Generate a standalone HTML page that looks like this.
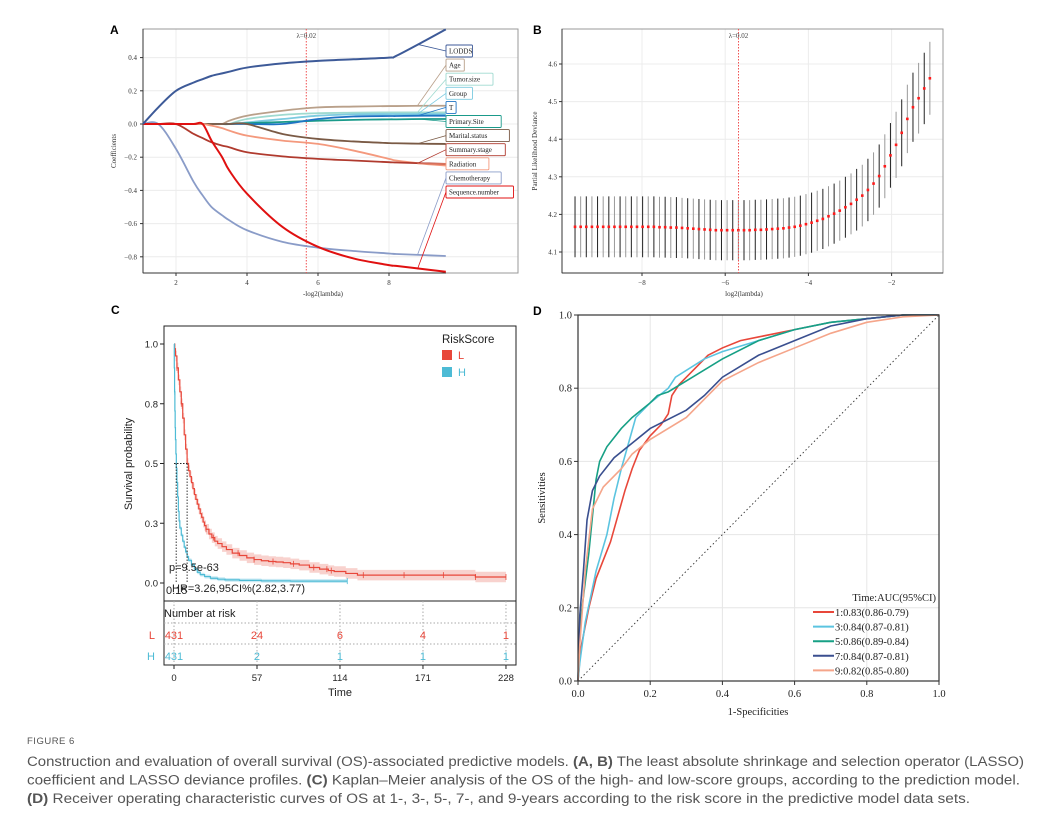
<!DOCTYPE html>
<html><head><meta charset="utf-8"><style>
html,body{margin:0;padding:0;background:#fff;}
svg{display:block;}
</style></head><body>
<svg id="fig" width="1051" height="828" viewBox="0 0 1051 828" xmlns="http://www.w3.org/2000/svg"></svg>
<script>
// ---------- DATA ----------
// Panel A: LASSO coefficient paths
const lambdaA = [1.07,1.5,2,2.5,2.75,3,3.3,3.5,4,5,6,7,8,8.2,9,9.6];
const coefLODDS   = [0,0.1,0.2,0.25,0.27,0.29,0.305,0.315,0.34,0.365,0.38,0.39,0.40,0.41,0.5,0.57];
const coefAge     = [0,0,0,0,0,0,0,0.02,0.05,0.08,0.1,0.105,0.108,0.108,0.11,0.11];
const coefTumor   = [0,0,0,0,0,0,0,0,0.03,0.055,0.065,0.068,0.07,0.07,0.07,0.07];
const coefGroup   = [0,0,0,0,0,0,0,0,0.01,0.03,0.05,0.058,0.06,0.06,0.06,0.06];
const coefT       = [0,0,0,0,0,0,0,0,0,0,0.03,0.045,0.048,0.048,0.05,0.05];
const coefPrimary = [0,0,0,0,0,0,0,0,0.005,0.012,0.02,0.025,0.028,0.028,0.03,0.03];
const coefMarital = [0,0,0,0,0,0,0,0,0,-0.06,-0.09,-0.105,-0.115,-0.116,-0.119,-0.12];
const coefSummary = [0,0,0,-0.06,-0.085,-0.11,-0.13,-0.14,-0.17,-0.195,-0.21,-0.22,-0.23,-0.232,-0.237,-0.24];
const coefRadiation=[0,0,0,0,0,-0.01,-0.025,-0.04,-0.07,-0.1,-0.12,-0.16,-0.21,-0.22,-0.24,-0.25];
const coefChemo   = [0,0,-0.15,-0.35,-0.43,-0.5,-0.55,-0.58,-0.64,-0.71,-0.745,-0.765,-0.78,-0.783,-0.79,-0.795];
const coefSeq     = [0,0,0,0,0,-0.1,-0.2,-0.28,-0.42,-0.62,-0.74,-0.81,-0.85,-0.855,-0.875,-0.89];
const varNames = ["LODDS","Age","Tumor.size","Group","T","Primary.Site","Marital.status","Summary.stage","Radiation","Chemotherapy","Sequence.number"];
const varColors = ["#3d5a98","#b9a08a","#9fdad0","#7ccbe0","#1f74c4","#1a9a8a","#7a5a45","#b03a2e","#f4997d","#8a9cc8","#e01010"];
const ticksAx = [2,4,6,8];
const ticksAy = [0.4,0.2,0.0,-0.2,-0.4,-0.6,-0.8];
// Panel B: CV deviance
const logLambdaStart = -9.61, logLambdaEnd = -1.08;
const devMean = [4.167,4.167,4.167,4.167,4.167,4.167,4.167,4.167,4.167,4.167,4.167,4.167,4.167,4.167,4.167,
 4.166,4.166,4.165,4.165,4.164,4.163,
 4.162,4.161,4.160,4.159,4.158,4.158,4.158,4.158,
 4.158,4.158,4.158,4.159,4.159,4.160,4.161,4.162,4.163,4.165,
 4.167,4.170,4.174,4.178,4.183,4.188,4.195,4.202,4.210,4.219,4.228,4.239,4.250,4.265,4.282,4.302,4.328,4.357,4.385,4.417,4.454,4.485,4.509,4.535,4.562];
const devSE = [0.081,0.081,0.081,0.081,0.081,0.081,0.081,0.081,0.081,0.081,0.081,0.081,0.081,0.081,0.081,
 0.081,0.081,0.081,0.081,0.080,0.080,
 0.080,0.080,0.080,0.080,0.080,0.080,0.080,0.080,
 0.080,0.080,0.080,0.080,0.080,0.080,0.080,0.080,0.080,0.080,
 0.080,0.080,0.080,0.080,0.080,0.080,0.080,0.080,0.080,0.081,0.081,0.082,0.082,0.083,0.083,0.084,0.085,0.086,0.088,0.089,0.091,0.092,0.094,0.095,0.097];
const ticksBx = [-8,-6,-4,-2];
const ticksBy = [4.1,4.2,4.3,4.4,4.5,4.6];
// Panel C: Kaplan-Meier
const kmTimeL = [0,0.5,1,2,3,4,5,6,7,8,9,10,11,12,13,14,15,16,17,18,19,20,21,22,24,26,28,30,33,36,40,45,50,55,60,65,70,75,80,86,93,100,106,110,118,126,150,180,207,228];
const kmSurvL = [1,0.98,0.95,0.9,0.85,0.8,0.75,0.69,0.62,0.56,0.5,0.47,0.445,0.42,0.395,0.37,0.35,0.33,0.31,0.29,0.275,0.255,0.24,0.225,0.205,0.19,0.175,0.165,0.152,0.14,0.125,0.115,0.105,0.098,0.093,0.09,0.088,0.085,0.08,0.075,0.065,0.058,0.052,0.048,0.04,0.033,0.033,0.033,0.025,0.025];
const kmTimeH = [0,0.2,0.4,0.6,0.8,1,1.3,1.6,2,2.5,3,3.5,4,5,6,7,8,9,10,12,14,16,18,21,25,30,35,45,60,80,119];
const kmSurvH = [1,0.9,0.8,0.72,0.65,0.6,0.54,0.48,0.42,0.36,0.3,0.26,0.23,0.2,0.175,0.15,0.13,0.11,0.095,0.075,0.058,0.045,0.035,0.027,0.02,0.016,0.013,0.011,0.009,0.008,0.008];
const censorL = [2,5,22,27,44,55,68,82,96,105,108,130,158,185,207,228];
const censorH = [0.5,119];
const riskTimes = [0,57,114,171,228];
const riskL = [431,24,6,4,1];
const riskH = [431,2,1,1,1];
const ticksCy = [0,0.25,0.5,0.75,1];
const tickLabelsCy = ["0.0","0.3","0.5","0.8","1.0"];
// Panel D: ROC
const rocFpr1 = [0,0.005,0.01,0.03,0.05,0.07,0.09,0.11,0.13,0.15,0.17,0.2,0.23,0.25,0.26,0.28,0.32,0.36,0.4,0.45,0.5,0.6,0.7,0.8,0.9,1];
const rocTpr1 = [0,0.06,0.1,0.2,0.28,0.33,0.38,0.45,0.52,0.58,0.63,0.67,0.7,0.73,0.78,0.81,0.85,0.89,0.91,0.93,0.94,0.96,0.98,0.99,1,1];
const rocFpr3 = [0,0.005,0.02,0.05,0.08,0.1,0.12,0.14,0.16,0.2,0.25,0.27,0.35,0.4,0.5,0.6,0.7,0.8,0.9,1];
const rocTpr3 = [0,0.05,0.16,0.3,0.4,0.5,0.58,0.65,0.72,0.76,0.8,0.83,0.88,0.9,0.93,0.96,0.98,0.99,1,1];
const rocFpr5 = [0,0.005,0.03,0.05,0.06,0.08,0.12,0.15,0.2,0.22,0.25,0.3,0.4,0.5,0.6,0.7,0.8,0.9,1];
const rocTpr5 = [0,0.15,0.35,0.55,0.6,0.64,0.69,0.72,0.76,0.78,0.79,0.82,0.88,0.93,0.96,0.98,0.99,1,1];
const rocFpr7 = [0,0.005,0.015,0.025,0.04,0.06,0.1,0.15,0.2,0.3,0.35,0.4,0.5,0.6,0.7,0.8,0.9,1];
const rocTpr7 = [0,0.18,0.3,0.44,0.52,0.56,0.61,0.65,0.69,0.74,0.78,0.83,0.89,0.93,0.97,0.99,1,1];
const rocFpr9 = [0,0.005,0.02,0.04,0.07,0.12,0.15,0.2,0.3,0.35,0.4,0.5,0.6,0.7,0.8,0.9,1];
const rocTpr9 = [0,0.1,0.3,0.47,0.53,0.58,0.62,0.66,0.72,0.77,0.82,0.87,0.91,0.95,0.98,0.995,1];
const rocLabels = ["1:0.83(0.86-0.79)","3:0.84(0.87-0.81)","5:0.86(0.89-0.84)","7:0.84(0.87-0.81)","9:0.82(0.85-0.80)"];
const rocColors = ["#e8473a","#5bc4e0","#17a085","#3a4f8f","#f5a58a"];
const ticksD = [0,0.2,0.4,0.6,0.8,1.0];

// ---------- HELPERS ----------
const NS="http://www.w3.org/2000/svg";
const svg=document.getElementById('fig');
function mk(tag,attrs,parent){const e=document.createElementNS(NS,tag);for(const k in attrs)e.setAttribute(k,attrs[k]);(parent||svg).appendChild(e);return e;}
function txt(str,attrs,parent){const e=mk('text',attrs,parent);e.textContent=str;return e;}
function grp(parent){return mk('g',{},parent);}
function smooth(pts){let d='M'+pts[0][0]+','+pts[0][1];for(let i=0;i<pts.length-1;i++){const p0=pts[i-1]||pts[i],p1=pts[i],p2=pts[i+1],p3=pts[i+2]||p2;const c1x=p1[0]+(p2[0]-p0[0])/6,c1y=p1[1]+(p2[1]-p0[1])/6,c2x=p2[0]-(p3[0]-p1[0])/6,c2y=p2[1]-(p3[1]-p1[1])/6;d+=' C'+c1x+','+c1y+' '+c2x+','+c2y+' '+p2[0]+','+p2[1];}return d;}
const SERIF='"Liberation Serif", serif', SANS='"Liberation Sans", sans-serif';

[['A',110,34],['B',533,34],['C',111,314],['D',533,315]].forEach(a=>{
  const t=txt(a[0],{x:a[1],y:a[2],'font-family':SANS,'font-size':12,'font-weight':'bold'});
  
  
});

// ---------- PANEL A ----------
const xA=v=>176+(v-2)*35.5, yA=v=>124-v*166;
const gA=grp();


ticksAy.forEach(v=>{mk('line',{x1:143,x2:518,y1:yA(v),y2:yA(v),stroke:'#ececec','stroke-width':1},gA);});
ticksAx.forEach(v=>{mk('line',{x1:xA(v),x2:xA(v),y1:29,y2:273,stroke:'#ececec','stroke-width':1},gA);});
mk('rect',{x:143,y:29,width:375,height:244,fill:'none',stroke:'#999','stroke-width':1},gA);
mk('line',{x1:143,x2:143,y1:29,y2:273,stroke:'#333','stroke-width':1},gA);
mk('line',{x1:143,x2:446,y1:273,y2:273,stroke:'#333','stroke-width':1},gA);
ticksAy.forEach(v=>{mk('line',{x1:140,x2:143,y1:yA(v),y2:yA(v),stroke:'#333'},gA);
  const t=txt((v<0?'\u2212':'')+Math.abs(v).toFixed(1),{x:137,y:yA(v)+2.5,'text-anchor':'end','font-family':SERIF,'font-size':7,fill:'#333'},gA);
  });
ticksAx.forEach(v=>{mk('line',{x1:xA(v),x2:xA(v),y1:273,y2:276,stroke:'#333'},gA);
  const t=txt(String(v),{x:xA(v),y:285,'text-anchor':'middle','font-family':SERIF,'font-size':7,fill:'#333'},gA);
  });
let t=txt('Coefficients',{transform:'translate(116,151) rotate(-90)','text-anchor':'middle','font-family':SERIF,'font-size':7,fill:'#333'},gA);

t=txt('-log2(lambda)',{x:323,y:296,'text-anchor':'middle','font-family':SERIF,'font-size':7,fill:'#333'},gA);

const vA=xA(5.67);
t=mk('line',{x1:vA,x2:vA,y1:29,y2:273,stroke:'#f05050','stroke-width':1,'stroke-dasharray':'1.5,1.5'},gA);

t=txt('\u03bb=0.02',{x:vA,y:38,'text-anchor':'middle','font-family':SERIF,'font-size':7,fill:'#444'},gA);

const coefSeries=[coefLODDS,coefAge,coefTumor,coefGroup,coefT,coefPrimary,coefMarital,coefSummary,coefRadiation,coefChemo,coefSeq];
const drawOrder=[2,3,5,4,1,6,8,7,9,10,0];
drawOrder.forEach(i=>{
  const pts=lambdaA.map((l,j)=>[xA(l),yA(coefSeries[i][j])]);
  const p=mk('path',{d:smooth(pts),fill:'none',stroke:varColors[i],'stroke-width':i===10||i===0?2:1.8},gA);
  
  
});
varNames.forEach((n,i)=>{
  const ly=51+i*14.1;
  const s=coefSeries[i];
  const k=lambdaA.indexOf(9);
  const ax=xA(8.8), ay=yA(i===0?0.48:s[k]);
  const l=mk('line',{x1:ax,y1:ay,x2:446,y2:ly,stroke:varColors[i],'stroke-width':0.8},gA);
  
  const w=n.length*4.1+6;
  const r=mk('rect',{x:446,y:ly-6,width:w,height:12,rx:1,fill:'#fff',stroke:varColors[i],'stroke-width':0.9},gA);
  
  const tt=txt(n,{x:449,y:ly+2.5,'font-family':SERIF,'font-size':7,fill:'#222'},gA);
  
});

// ---------- PANEL B ----------
const xB=v=>642+(v+8)*41.6, yB=v=>252-(v-4.1)*376;
const gB=grp();


ticksBy.forEach(v=>{mk('line',{x1:562,x2:943,y1:yB(v),y2:yB(v),stroke:'#ececec'},gB);});
ticksBx.forEach(v=>{mk('line',{x1:xB(v),x2:xB(v),y1:29,y2:273,stroke:'#ececec'},gB);});
mk('rect',{x:562,y:29,width:381,height:244,fill:'none',stroke:'#999'},gB);
mk('line',{x1:562,x2:562,y1:29,y2:273,stroke:'#333'},gB);
mk('line',{x1:562,x2:943,y1:273,y2:273,stroke:'#333'},gB);
ticksBy.forEach(v=>{mk('line',{x1:559,x2:562,y1:yB(v),y2:yB(v),stroke:'#333'},gB);
  const tt=txt(v.toFixed(1),{x:557,y:yB(v)+2.5,'text-anchor':'end','font-family':SERIF,'font-size':7,fill:'#333'},gB);
  });
ticksBx.forEach(v=>{mk('line',{x1:xB(v),x2:xB(v),y1:273,y2:276,stroke:'#333'},gB);
  const tt=txt('\u2212'+Math.abs(v),{x:xB(v),y:285,'text-anchor':'middle','font-family':SERIF,'font-size':7,fill:'#333'},gB);
  });
t=txt('Partial Likelihood Deviance',{transform:'translate(537,151) rotate(-90)','text-anchor':'middle','font-family':SERIF,'font-size':7,fill:'#333'},gB);

t=txt('log2(lambda)',{x:744,y:296,'text-anchor':'middle','font-family':SERIF,'font-size':7,fill:'#333'},gB);

const stepB=(logLambdaEnd-logLambdaStart)/(devMean.length-1);
devMean.forEach((m,i)=>{
  const lx=xB(logLambdaStart+i*stepB);
  const b=mk('line',{x1:lx,x2:lx,y1:yB(m+devSE[i]),y2:yB(m-devSE[i]),stroke:i%2?'#999':'#222','stroke-width':1},gB);
  
});
devMean.forEach((m,i)=>{
  const lx=xB(logLambdaStart+i*stepB);
  const c=mk('rect',{x:lx-1.3,y:yB(m)-1.3,width:2.6,height:2.6,fill:'#ff1a1a'},gB);
  
});
const vB=xB(-5.68);
t=mk('line',{x1:vB,x2:vB,y1:29,y2:273,stroke:'#f05050','stroke-dasharray':'1.5,1.5'},gB);

t=txt('\u03bb=0.02',{x:vB,y:38,'text-anchor':'middle','font-family':SERIF,'font-size':7,fill:'#444'},gB);


// ---------- PANEL C ----------
const xC=v=>174+v*1.456, yC=v=>583-v*239;
const gC=grp();


function stepPts(ts,ss){const p=[[xC(ts[0]),yC(ss[0])]];for(let i=1;i<ts.length;i++){p.push([xC(ts[i]),yC(ss[i-1])]);p.push([xC(ts[i]),yC(ss[i])]);}return p;}
function band(ts,ss,w){const up=stepPts(ts,ss.map(s=>Math.min(1,s+w))),lo=stepPts(ts,ss.map(s=>Math.max(0,s-w))).reverse();return 'M'+up.concat(lo).map(p=>p.join(',')).join(' L')+'Z';}
function survAt(ts,ss,tm){let s=ss[0];for(let i=0;i<ts.length;i++){if(ts[i]<=tm)s=ss[i];}return s;}
t=mk('path',{d:band(kmTimeL,kmSurvL,0.022),fill:'#f4b4ae',opacity:0.6},gC);

t=mk('path',{d:band(kmTimeH,kmSurvH,0.008),fill:'#a7dced',opacity:0.6},gC);

t=mk('polyline',{points:stepPts(kmTimeL,kmSurvL).map(p=>p.join(',')).join(' '),fill:'none',stroke:'#e8473a','stroke-width':1.2},gC);

t=mk('polyline',{points:stepPts(kmTimeH,kmSurvH).map(p=>p.join(',')).join(' '),fill:'none',stroke:'#4dbbd5','stroke-width':1.2},gC);

censorL.forEach(tm=>{const y=yC(survAt(kmTimeL,kmSurvL,tm));const c=mk('line',{x1:xC(tm),x2:xC(tm),y1:y-3,y2:y+3,stroke:'#e8473a','stroke-width':0.8},gC);});
censorH.forEach(tm=>{const y=yC(survAt(kmTimeH,kmSurvH,tm));const c=mk('line',{x1:xC(tm),x2:xC(tm),y1:y-3,y2:y+3,stroke:'#4dbbd5','stroke-width':0.8},gC);});
t=mk('path',{d:`M${xC(0)},${yC(0.5)} H${xC(9)} M${xC(1.5)},${yC(0.5)} V${yC(0)} M${xC(9)},${yC(0.5)} V${yC(0)}`,fill:'none',stroke:'#222','stroke-width':0.9,'stroke-dasharray':'1.5,1.5'},gC);

mk('rect',{x:164,y:326,width:352,height:339,fill:'none',stroke:'#222','stroke-width':1},gC);
mk('line',{x1:164,x2:516,y1:601,y2:601,stroke:'#222'},gC);
ticksCy.forEach((v,i)=>{mk('line',{x1:160,x2:164,y1:yC(v),y2:yC(v),stroke:'#222'},gC);
  const tt=txt(tickLabelsCy[i],{x:158,y:yC(v)+3.5,'text-anchor':'end','font-family':SANS,'font-size':9.5,fill:'#222'},gC);
  });
t=txt('Survival probability',{transform:'translate(132,464) rotate(-90)','text-anchor':'middle','font-family':SANS,'font-size':11,fill:'#222'},gC);

t=txt('RiskScore',{x:442,y:343,'font-family':SANS,'font-size':11.5,fill:'#222'},gC);

[['L','#e8473a',350],['H','#4dbbd5',367]].forEach(a=>{
  const r=mk('rect',{x:442,y:a[2],width:10,height:10,fill:a[1]},gC);
  
  const tt=txt(a[0],{x:458,y:a[2]+9,'font-family':SANS,'font-size':11,fill:a[1]},gC);
  
});
t=txt('p=9.5e-63',{x:169,y:571,'font-family':SANS,'font-size':11,fill:'#222'},gC);

t=txt('0.15',{x:166,y:594,'font-family':SANS,'font-size':11,fill:'#222'},gC);

t=txt('HR=3.26,95CI%(2.82,3.77)',{x:172,y:592,'font-family':SANS,'font-size':11,fill:'#222'},gC);

riskTimes.forEach(tm=>{const l=mk('line',{x1:xC(tm),x2:xC(tm),y1:601,y2:665,stroke:'#aaa','stroke-dasharray':'1.5,2'},gC);});
[623,644].forEach(y=>{mk('line',{x1:164,x2:516,y1:y,y2:y,stroke:'#aaa','stroke-dasharray':'1.5,2'},gC);});
t=txt('Number at risk',{x:164,y:617,'font-family':SANS,'font-size':11,fill:'#222'},gC);

[['L',riskL,'#e8473a',639],['H',riskH,'#4dbbd5',660]].forEach(a=>{
  const lab=txt(a[0],{x:155,y:a[3],'text-anchor':'end','font-family':SANS,'font-size':11,fill:a[2]},gC);
  
  a[1].forEach((n,i)=>{const tt=txt(String(n),{x:xC(riskTimes[i]),y:a[3],'text-anchor':'middle','font-family':SANS,'font-size':11,fill:a[2]},gC);
    });
});
riskTimes.forEach(tm=>{mk('line',{x1:xC(tm),x2:xC(tm),y1:665,y2:669,stroke:'#222'},gC);
  const tt=txt(String(tm),{x:xC(tm),y:681,'text-anchor':'middle','font-family':SANS,'font-size':9.5,fill:'#222'},gC);
  });
t=txt('Time',{x:340,y:696,'text-anchor':'middle','font-family':SANS,'font-size':11,fill:'#222'},gC);


// ---------- PANEL D ----------
const xD=v=>578+v*361, yD=v=>681-v*366;
const gD=grp();


ticksD.forEach(v=>{mk('line',{x1:578,x2:939,y1:yD(v),y2:yD(v),stroke:'#e6e6e6'},gD);mk('line',{x1:xD(v),x2:xD(v),y1:315,y2:681,stroke:'#e6e6e6'},gD);});
t=mk('line',{x1:xD(0),y1:yD(0),x2:xD(1),y2:yD(1),stroke:'#333','stroke-width':0.9,'stroke-dasharray':'1.5,2.5'},gD);

const rocF=[rocFpr1,rocFpr3,rocFpr5,rocFpr7,rocFpr9], rocT=[rocTpr1,rocTpr3,rocTpr5,rocTpr7,rocTpr9];
rocF.forEach((f,k)=>{
  const p=mk('polyline',{points:f.map((v,i)=>xD(v)+','+yD(rocT[k][i])).join(' '),fill:'none',stroke:rocColors[k],'stroke-width':1.6},gD);
  
});
mk('rect',{x:578,y:315,width:361,height:366,fill:'none',stroke:'#333','stroke-width':1.2},gD);
ticksD.forEach(v=>{
  mk('line',{x1:574,x2:578,y1:yD(v),y2:yD(v),stroke:'#333'},gD);
  mk('line',{x1:xD(v),x2:xD(v),y1:681,y2:685,stroke:'#333'},gD);
  const a=txt(v.toFixed(1),{x:572,y:yD(v)+3.5,'text-anchor':'end','font-family':SERIF,'font-size':10.5,fill:'#222'},gD);
  
  const b=txt(v.toFixed(1),{x:xD(v),y:697,'text-anchor':'middle','font-family':SERIF,'font-size':10.5,fill:'#222'},gD);
  
});
t=txt('Sensitivities',{transform:'translate(545,498) rotate(-90)','text-anchor':'middle','font-family':SERIF,'font-size':10.5,fill:'#222'},gD);

t=txt('1-Specificities',{x:758,y:715,'text-anchor':'middle','font-family':SERIF,'font-size':10.5,fill:'#222'},gD);

t=txt('Time:AUC(95%CI)',{x:936,y:601,'text-anchor':'end','font-family':SERIF,'font-size':10.5,fill:'#222'},gD);

rocLabels.forEach((s,k)=>{
  const y=612+k*14.6;
  const l=mk('line',{x1:813,x2:834,y1:y,y2:y,stroke:rocColors[k],'stroke-width':2},gD);
  
  const tt=txt(s,{x:835,y:y+4,'font-family':SERIF,'font-size':10.5,fill:'#222'},gD);
  
});

// ---------- CAPTION ----------
t=txt('FIGURE 6',{x:27,y:744,'font-family':SANS,'font-size':9.5,fill:'#555','letter-spacing':0.5});

const capLines=[
 [[ 'Construction and evaluation of overall survival (OS)-associated predictive models. ',0],['(A, B)',1],[' The least absolute shrinkage and selection operator (LASSO)',0],997],
 [[ 'coefficient and LASSO deviance profiles. ',0],['(C)',1],[' Kaplan\u2013Meier analysis of the OS of the high- and low-score groups, according to the prediction model.',0],993],
 [[ '(D)',1],[' Receiver operating characteristic curves of OS at 1-, 3-, 5-, 7-, and 9-years according to the risk score in the predictive model data sets.',0],943]
];
capLines.forEach((ln,i)=>{
  const w=ln[ln.length-1];
  const te=mk('text',{x:27,y:766+i*18.5,'font-family':SANS,'font-size':13.5,fill:'#555',textLength:w,lengthAdjust:'spacingAndGlyphs'});
  
  
  ln.slice(0,-1).forEach(seg=>{const sp=mk('tspan',{'font-weight':seg[1]?'bold':'normal'},te);sp.textContent=seg[0];});
});
</script>
</body></html>
